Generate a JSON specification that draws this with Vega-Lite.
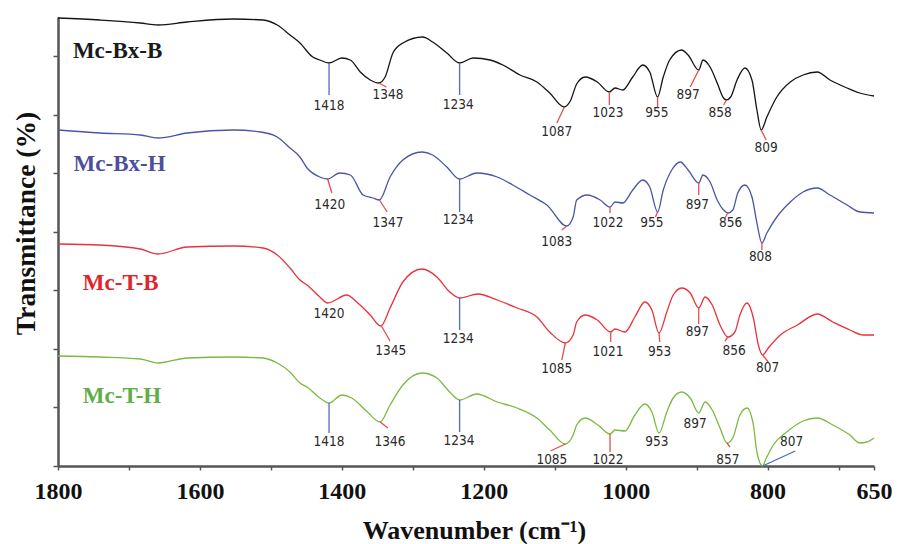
{
  "$schema": "https://vega.github.io/schema/vega-lite/v6.json",
  "width": 816,
  "height": 449,
  "autosize": {"type": "none"},
  "padding": {"left": 58, "top": 17, "right": 24, "bottom": 78},
  "background": "white",
  "config": {"view": {"stroke": null}},
  "datasets": {
    "spectra": [
      {"s":"Mc-Bx-B","w":1800,"t":448},{"s":"Mc-Bx-B","w":1741,"t":446},{"s":"Mc-Bx-B","w":1684,"t":443},{"s":"Mc-Bx-B","w":1659,"t":441},{"s":"Mc-Bx-B","w":1618,"t":444},{"s":"Mc-Bx-B","w":1553,"t":447},{"s":"Mc-Bx-B","w":1511,"t":446},{"s":"Mc-Bx-B","w":1491,"t":441},{"s":"Mc-Bx-B","w":1473,"t":431},{"s":"Mc-Bx-B","w":1459,"t":423},{"s":"Mc-Bx-B","w":1441,"t":409},{"s":"Mc-Bx-B","w":1431,"t":406},{"s":"Mc-Bx-B","w":1418,"t":403},{"s":"Mc-Bx-B","w":1400,"t":408},{"s":"Mc-Bx-B","w":1388,"t":406},{"s":"Mc-Bx-B","w":1374,"t":394},{"s":"Mc-Bx-B","w":1360,"t":386},{"s":"Mc-Bx-B","w":1348,"t":383},{"s":"Mc-Bx-B","w":1339,"t":389},{"s":"Mc-Bx-B","w":1328,"t":413},{"s":"Mc-Bx-B","w":1314,"t":423},{"s":"Mc-Bx-B","w":1286,"t":429},{"s":"Mc-Bx-B","w":1272,"t":424},{"s":"Mc-Bx-B","w":1252,"t":413},{"s":"Mc-Bx-B","w":1234,"t":403},{"s":"Mc-Bx-B","w":1215,"t":408},{"s":"Mc-Bx-B","w":1191,"t":406},{"s":"Mc-Bx-B","w":1173,"t":401},{"s":"Mc-Bx-B","w":1149,"t":391},{"s":"Mc-Bx-B","w":1125,"t":384},{"s":"Mc-Bx-B","w":1107,"t":373},{"s":"Mc-Bx-B","w":1087,"t":359},{"s":"Mc-Bx-B","w":1078,"t":365},{"s":"Mc-Bx-B","w":1069,"t":382},{"s":"Mc-Bx-B","w":1057,"t":389},{"s":"Mc-Bx-B","w":1040,"t":384},{"s":"Mc-Bx-B","w":1023,"t":374},{"s":"Mc-Bx-B","w":1015,"t":378},{"s":"Mc-Bx-B","w":1004,"t":376},{"s":"Mc-Bx-B","w":990,"t":389},{"s":"Mc-Bx-B","w":976,"t":401},{"s":"Mc-Bx-B","w":966,"t":394},{"s":"Mc-Bx-B","w":955,"t":369},{"s":"Mc-Bx-B","w":947,"t":389},{"s":"Mc-Bx-B","w":938,"t":406},{"s":"Mc-Bx-B","w":921,"t":416},{"s":"Mc-Bx-B","w":912,"t":411},{"s":"Mc-Bx-B","w":897,"t":396},{"s":"Mc-Bx-B","w":891,"t":406},{"s":"Mc-Bx-B","w":881,"t":399},{"s":"Mc-Bx-B","w":871,"t":383},{"s":"Mc-Bx-B","w":862,"t":368},{"s":"Mc-Bx-B","w":858,"t":366},{"s":"Mc-Bx-B","w":852,"t":369},{"s":"Mc-Bx-B","w":843,"t":386},{"s":"Mc-Bx-B","w":832,"t":398},{"s":"Mc-Bx-B","w":822,"t":386},{"s":"Mc-Bx-B","w":815,"t":356},{"s":"Mc-Bx-B","w":809,"t":336},{"s":"Mc-Bx-B","w":801,"t":349},{"s":"Mc-Bx-B","w":787,"t":369},{"s":"Mc-Bx-B","w":768,"t":384},{"s":"Mc-Bx-B","w":750,"t":391},{"s":"Mc-Bx-B","w":730,"t":394},{"s":"Mc-Bx-B","w":712,"t":386},{"s":"Mc-Bx-B","w":688,"t":378},{"s":"Mc-Bx-B","w":670,"t":373},{"s":"Mc-Bx-B","w":650,"t":370},

      {"s":"Mc-Bx-H","w":1800,"t":336},{"s":"Mc-Bx-H","w":1741,"t":333},{"s":"Mc-Bx-H","w":1684,"t":331},{"s":"Mc-Bx-H","w":1659,"t":328},{"s":"Mc-Bx-H","w":1618,"t":333},{"s":"Mc-Bx-H","w":1553,"t":336},{"s":"Mc-Bx-H","w":1514,"t":334},{"s":"Mc-Bx-H","w":1491,"t":329},{"s":"Mc-Bx-H","w":1473,"t":318},{"s":"Mc-Bx-H","w":1459,"t":309},{"s":"Mc-Bx-H","w":1449,"t":298},{"s":"Mc-Bx-H","w":1431,"t":289},{"s":"Mc-Bx-H","w":1420,"t":287},{"s":"Mc-Bx-H","w":1403,"t":293},{"s":"Mc-Bx-H","w":1388,"t":291},{"s":"Mc-Bx-H","w":1370,"t":271},{"s":"Mc-Bx-H","w":1356,"t":268},{"s":"Mc-Bx-H","w":1347,"t":266},{"s":"Mc-Bx-H","w":1332,"t":289},{"s":"Mc-Bx-H","w":1314,"t":306},{"s":"Mc-Bx-H","w":1287,"t":314},{"s":"Mc-Bx-H","w":1272,"t":311},{"s":"Mc-Bx-H","w":1252,"t":299},{"s":"Mc-Bx-H","w":1234,"t":287},{"s":"Mc-Bx-H","w":1210,"t":293},{"s":"Mc-Bx-H","w":1181,"t":289},{"s":"Mc-Bx-H","w":1159,"t":281},{"s":"Mc-Bx-H","w":1135,"t":271},{"s":"Mc-Bx-H","w":1111,"t":261},{"s":"Mc-Bx-H","w":1083,"t":240},{"s":"Mc-Bx-H","w":1074,"t":249},{"s":"Mc-Bx-H","w":1069,"t":266},{"s":"Mc-Bx-H","w":1054,"t":271},{"s":"Mc-Bx-H","w":1036,"t":266},{"s":"Mc-Bx-H","w":1022,"t":259},{"s":"Mc-Bx-H","w":1015,"t":264},{"s":"Mc-Bx-H","w":1004,"t":263},{"s":"Mc-Bx-H","w":990,"t":276},{"s":"Mc-Bx-H","w":976,"t":286},{"s":"Mc-Bx-H","w":966,"t":279},{"s":"Mc-Bx-H","w":955,"t":254},{"s":"Mc-Bx-H","w":947,"t":276},{"s":"Mc-Bx-H","w":935,"t":296},{"s":"Mc-Bx-H","w":923,"t":304},{"s":"Mc-Bx-H","w":912,"t":296},{"s":"Mc-Bx-H","w":897,"t":283},{"s":"Mc-Bx-H","w":891,"t":291},{"s":"Mc-Bx-H","w":881,"t":284},{"s":"Mc-Bx-H","w":871,"t":266},{"s":"Mc-Bx-H","w":862,"t":256},{"s":"Mc-Bx-H","w":856,"t":253},{"s":"Mc-Bx-H","w":849,"t":256},{"s":"Mc-Bx-H","w":842,"t":273},{"s":"Mc-Bx-H","w":832,"t":281},{"s":"Mc-Bx-H","w":822,"t":269},{"s":"Mc-Bx-H","w":815,"t":243},{"s":"Mc-Bx-H","w":808,"t":223},{"s":"Mc-Bx-H","w":801,"t":233},{"s":"Mc-Bx-H","w":787,"t":249},{"s":"Mc-Bx-H","w":768,"t":264},{"s":"Mc-Bx-H","w":750,"t":274},{"s":"Mc-Bx-H","w":730,"t":278},{"s":"Mc-Bx-H","w":712,"t":271},{"s":"Mc-Bx-H","w":688,"t":261},{"s":"Mc-Bx-H","w":670,"t":254},{"s":"Mc-Bx-H","w":650,"t":253},

      {"s":"Mc-T-B","w":1800,"t":222},{"s":"Mc-T-B","w":1741,"t":221},{"s":"Mc-T-B","w":1684,"t":217},{"s":"Mc-T-B","w":1659,"t":212},{"s":"Mc-T-B","w":1618,"t":219},{"s":"Mc-T-B","w":1553,"t":220},{"s":"Mc-T-B","w":1511,"t":218},{"s":"Mc-T-B","w":1491,"t":211},{"s":"Mc-T-B","w":1473,"t":198},{"s":"Mc-T-B","w":1459,"t":186},{"s":"Mc-T-B","w":1449,"t":181},{"s":"Mc-T-B","w":1431,"t":169},{"s":"Mc-T-B","w":1420,"t":163},{"s":"Mc-T-B","w":1393,"t":171},{"s":"Mc-T-B","w":1379,"t":164},{"s":"Mc-T-B","w":1360,"t":151},{"s":"Mc-T-B","w":1345,"t":140},{"s":"Mc-T-B","w":1332,"t":158},{"s":"Mc-T-B","w":1314,"t":184},{"s":"Mc-T-B","w":1287,"t":197},{"s":"Mc-T-B","w":1266,"t":189},{"s":"Mc-T-B","w":1248,"t":174},{"s":"Mc-T-B","w":1234,"t":168},{"s":"Mc-T-B","w":1208,"t":172},{"s":"Mc-T-B","w":1181,"t":166},{"s":"Mc-T-B","w":1153,"t":158},{"s":"Mc-T-B","w":1125,"t":149},{"s":"Mc-T-B","w":1107,"t":134},{"s":"Mc-T-B","w":1085,"t":123},{"s":"Mc-T-B","w":1074,"t":131},{"s":"Mc-T-B","w":1069,"t":144},{"s":"Mc-T-B","w":1057,"t":151},{"s":"Mc-T-B","w":1040,"t":146},{"s":"Mc-T-B","w":1021,"t":134},{"s":"Mc-T-B","w":1015,"t":137},{"s":"Mc-T-B","w":1001,"t":134},{"s":"Mc-T-B","w":987,"t":149},{"s":"Mc-T-B","w":973,"t":164},{"s":"Mc-T-B","w":963,"t":156},{"s":"Mc-T-B","w":953,"t":133},{"s":"Mc-T-B","w":942,"t":154},{"s":"Mc-T-B","w":933,"t":171},{"s":"Mc-T-B","w":921,"t":178},{"s":"Mc-T-B","w":909,"t":173},{"s":"Mc-T-B","w":897,"t":158},{"s":"Mc-T-B","w":888,"t":169},{"s":"Mc-T-B","w":878,"t":161},{"s":"Mc-T-B","w":867,"t":141},{"s":"Mc-T-B","w":856,"t":129},{"s":"Mc-T-B","w":846,"t":134},{"s":"Mc-T-B","w":839,"t":151},{"s":"Mc-T-B","w":829,"t":163},{"s":"Mc-T-B","w":820,"t":148},{"s":"Mc-T-B","w":813,"t":121},{"s":"Mc-T-B","w":807,"t":111},{"s":"Mc-T-B","w":799,"t":118},{"s":"Mc-T-B","w":782,"t":131},{"s":"Mc-T-B","w":758,"t":141},{"s":"Mc-T-B","w":730,"t":152},{"s":"Mc-T-B","w":708,"t":144},{"s":"Mc-T-B","w":684,"t":136},{"s":"Mc-T-B","w":665,"t":131},{"s":"Mc-T-B","w":650,"t":131},

      {"s":"Mc-T-H","w":1800,"t":110},{"s":"Mc-T-H","w":1741,"t":109},{"s":"Mc-T-H","w":1684,"t":107},{"s":"Mc-T-H","w":1659,"t":103},{"s":"Mc-T-H","w":1618,"t":108},{"s":"Mc-T-H","w":1553,"t":109},{"s":"Mc-T-H","w":1511,"t":108},{"s":"Mc-T-H","w":1491,"t":103},{"s":"Mc-T-H","w":1473,"t":94},{"s":"Mc-T-H","w":1459,"t":83},{"s":"Mc-T-H","w":1449,"t":79},{"s":"Mc-T-H","w":1431,"t":68},{"s":"Mc-T-H","w":1418,"t":63},{"s":"Mc-T-H","w":1400,"t":71},{"s":"Mc-T-H","w":1386,"t":68},{"s":"Mc-T-H","w":1364,"t":54},{"s":"Mc-T-H","w":1346,"t":44},{"s":"Mc-T-H","w":1332,"t":61},{"s":"Mc-T-H","w":1314,"t":81},{"s":"Mc-T-H","w":1287,"t":93},{"s":"Mc-T-H","w":1266,"t":88},{"s":"Mc-T-H","w":1248,"t":74},{"s":"Mc-T-H","w":1234,"t":66},{"s":"Mc-T-H","w":1210,"t":72},{"s":"Mc-T-H","w":1181,"t":64},{"s":"Mc-T-H","w":1153,"t":58},{"s":"Mc-T-H","w":1125,"t":48},{"s":"Mc-T-H","w":1107,"t":36},{"s":"Mc-T-H","w":1085,"t":22},{"s":"Mc-T-H","w":1074,"t":31},{"s":"Mc-T-H","w":1069,"t":41},{"s":"Mc-T-H","w":1057,"t":48},{"s":"Mc-T-H","w":1039,"t":41},{"s":"Mc-T-H","w":1022,"t":32},{"s":"Mc-T-H","w":1015,"t":36},{"s":"Mc-T-H","w":1001,"t":35},{"s":"Mc-T-H","w":987,"t":51},{"s":"Mc-T-H","w":973,"t":62},{"s":"Mc-T-H","w":963,"t":54},{"s":"Mc-T-H","w":953,"t":33},{"s":"Mc-T-H","w":942,"t":54},{"s":"Mc-T-H","w":933,"t":68},{"s":"Mc-T-H","w":921,"t":74},{"s":"Mc-T-H","w":909,"t":68},{"s":"Mc-T-H","w":897,"t":53},{"s":"Mc-T-H","w":888,"t":64},{"s":"Mc-T-H","w":878,"t":56},{"s":"Mc-T-H","w":867,"t":38},{"s":"Mc-T-H","w":857,"t":23},{"s":"Mc-T-H","w":849,"t":28},{"s":"Mc-T-H","w":839,"t":51},{"s":"Mc-T-H","w":829,"t":58},{"s":"Mc-T-H","w":820,"t":41},{"s":"Mc-T-H","w":815,"t":14},{"s":"Mc-T-H","w":807,"t":0},{"s":"Mc-T-H","w":803,"t":6},{"s":"Mc-T-H","w":792,"t":21},{"s":"Mc-T-H","w":773,"t":34},{"s":"Mc-T-H","w":750,"t":45},{"s":"Mc-T-H","w":730,"t":48},{"s":"Mc-T-H","w":708,"t":41},{"s":"Mc-T-H","w":684,"t":31},{"s":"Mc-T-H","w":670,"t":23},{"s":"Mc-T-H","w":660,"t":24},{"s":"Mc-T-H","w":650,"t":28}
    ],
    "markers": [
      {"s":"Mc-Bx-B","kind":"ref","w":1418,"t":403,"w2":1418,"t2":371},
      {"s":"Mc-Bx-B","kind":"peak","w":1348,"t":383,"w2":1337,"t2":379},
      {"s":"Mc-Bx-B","kind":"ref","w":1234,"t":403,"w2":1234,"t2":371},
      {"s":"Mc-Bx-B","kind":"peak","w":1087,"t":358,"w2":1097,"t2":343},
      {"s":"Mc-Bx-B","kind":"peak","w":1023,"t":374,"w2":1023,"t2":361},
      {"s":"Mc-Bx-B","kind":"peak","w":955,"t":369,"w2":955,"t2":359},
      {"s":"Mc-Bx-B","kind":"peak","w":897,"t":396,"w2":909,"t2":379},
      {"s":"Mc-Bx-B","kind":"peak","w":858,"t":366,"w2":862,"t2":361},
      {"s":"Mc-Bx-B","kind":"peak","w":809,"t":336,"w2":802,"t2":326},
      {"s":"Mc-Bx-H","kind":"peak","w":1420,"t":287,"w2":1414,"t2":273},
      {"s":"Mc-Bx-H","kind":"peak","w":1347,"t":266,"w2":1336,"t2":254},
      {"s":"Mc-Bx-H","kind":"ref","w":1234,"t":287,"w2":1234,"t2":254},
      {"s":"Mc-Bx-H","kind":"peak","w":1083,"t":240,"w2":1090,"t2":236},
      {"s":"Mc-Bx-H","kind":"peak","w":1022,"t":259,"w2":1022,"t2":253},
      {"s":"Mc-Bx-H","kind":"peak","w":955,"t":254,"w2":958,"t2":249},
      {"s":"Mc-Bx-H","kind":"peak","w":897,"t":283,"w2":897,"t2":271},
      {"s":"Mc-Bx-H","kind":"peak","w":856,"t":253,"w2":860,"t2":248},
      {"s":"Mc-Bx-H","kind":"peak","w":808,"t":223,"w2":808,"t2":216},
      {"s":"Mc-T-B","kind":"peak","w":1345,"t":141,"w2":1332,"t2":125},
      {"s":"Mc-T-B","kind":"ref","w":1234,"t":168,"w2":1234,"t2":136},
      {"s":"Mc-T-B","kind":"peak","w":1085,"t":123,"w2":1090,"t2":106},
      {"s":"Mc-T-B","kind":"peak","w":1021,"t":134,"w2":1021,"t2":124},
      {"s":"Mc-T-B","kind":"peak","w":953,"t":133,"w2":952,"t2":124},
      {"s":"Mc-T-B","kind":"peak","w":897,"t":158,"w2":897,"t2":142},
      {"s":"Mc-T-B","kind":"peak","w":856,"t":129,"w2":860,"t2":125},
      {"s":"Mc-T-B","kind":"peak","w":807,"t":111,"w2":799,"t2":104},
      {"s":"Mc-T-H","kind":"ref","w":1418,"t":63,"w2":1418,"t2":33},
      {"s":"Mc-T-H","kind":"peak","w":1346,"t":44,"w2":1335,"t2":38},
      {"s":"Mc-T-H","kind":"ref","w":1234,"t":66,"w2":1234,"t2":34},
      {"s":"Mc-T-H","kind":"peak","w":1085,"t":22,"w2":1106,"t2":15},
      {"s":"Mc-T-H","kind":"peak","w":1022,"t":32,"w2":1022,"t2":14},
      {"s":"Mc-T-H","kind":"peak","w":857,"t":23,"w2":853,"t2":19},
      {"s":"Mc-T-H","kind":"ref","w":807,"t":0,"w2":761,"t2":15}
    ],
    "peakLabels": [
      {"s":"Mc-Bx-B","label":"1418","w":1418,"t":360},
      {"s":"Mc-Bx-B","label":"1348","w":1335,"t":371},
      {"s":"Mc-Bx-B","label":"1234","w":1236,"t":361},
      {"s":"Mc-Bx-B","label":"1087","w":1097,"t":334},
      {"s":"Mc-Bx-B","label":"1023","w":1025,"t":353},
      {"s":"Mc-Bx-B","label":"955","w":956,"t":353},
      {"s":"Mc-Bx-B","label":"897","w":912,"t":371},
      {"s":"Mc-Bx-B","label":"858","w":867,"t":353},
      {"s":"Mc-Bx-B","label":"809","w":802,"t":318},
      {"s":"Mc-Bx-H","label":"1420","w":1417,"t":261},
      {"s":"Mc-Bx-H","label":"1347","w":1335,"t":243},
      {"s":"Mc-Bx-H","label":"1234","w":1236,"t":246},
      {"s":"Mc-Bx-H","label":"1083","w":1097,"t":224},
      {"s":"Mc-Bx-H","label":"1022","w":1025,"t":243},
      {"s":"Mc-Bx-H","label":"955","w":963,"t":243},
      {"s":"Mc-Bx-H","label":"897","w":899,"t":261},
      {"s":"Mc-Bx-H","label":"856","w":852,"t":243},
      {"s":"Mc-Bx-H","label":"808","w":810,"t":209},
      {"s":"Mc-T-B","label":"1420","w":1418,"t":152},
      {"s":"Mc-T-B","label":"1345","w":1331,"t":115},
      {"s":"Mc-T-B","label":"1234","w":1236,"t":127},
      {"s":"Mc-T-B","label":"1085","w":1097,"t":97},
      {"s":"Mc-T-B","label":"1021","w":1025,"t":114},
      {"s":"Mc-T-B","label":"953","w":952,"t":114},
      {"s":"Mc-T-B","label":"897","w":899,"t":134},
      {"s":"Mc-T-B","label":"856","w":847,"t":115},
      {"s":"Mc-T-B","label":"807","w":800,"t":98},
      {"s":"Mc-T-H","label":"1418","w":1418,"t":24},
      {"s":"Mc-T-H","label":"1346","w":1332,"t":24},
      {"s":"Mc-T-H","label":"1234","w":1235,"t":25},
      {"s":"Mc-T-H","label":"1085","w":1104,"t":6},
      {"s":"Mc-T-H","label":"1022","w":1025,"t":6},
      {"s":"Mc-T-H","label":"953","w":956,"t":24},
      {"s":"Mc-T-H","label":"897","w":902,"t":42},
      {"s":"Mc-T-H","label":"857","w":856,"t":6},
      {"s":"Mc-T-H","label":"807","w":766,"t":24}
    ],
    "names": [
      {"s":"Mc-Bx-B","w":1779,"t":415},
      {"s":"Mc-Bx-H","w":1778,"t":302},
      {"s":"Mc-T-B","w":1765,"t":183},
      {"s":"Mc-T-H","w":1765,"t":70}
    ]
  },
  "encoding": {
    "x": {
      "field": "w", "type": "quantitative",
      "scale": {"domain": [650, 1800], "reverse": true, "nice": false, "zero": false},
      "axis": {
        "title": "Wavenumber (cm⁻¹)",
        "values": [1800,1700,1600,1500,1400,1300,1200,1100,1000,900,800,700,650],
        "labelExpr": "(datum.value % 200 == 0 || datum.value == 650) ? format(datum.value, 'd') : ''",
        "grid": false,
        "domainColor": "#555555", "domainWidth": 2.5,
        "tickColor": "#555555", "tickWidth": 1.5, "tickSize": 4,
        "labelFont": "Liberation Serif", "labelFontSize": 24, "labelFontWeight": "bold", "labelColor": "#111111",
        "labelPadding": 9, "labelOverlap": false, "labelFlush": false,
        "titleFont": "Liberation Serif", "titleFontSize": 26, "titleFontWeight": "bold", "titleColor": "#111111",
        "titleX": 416, "titleY": 72, "titleBaseline": "alphabetic", "titleAlign": "center"
      }
    },
    "y": {
      "field": "t", "type": "quantitative",
      "scale": {"domain": [0, 449], "nice": false, "zero": false},
      "axis": {
        "title": "Transmittance (%)",
        "values": [0, 58.6, 117.1, 175.7, 234.3, 292.9, 351.4, 410],
        "labels": false,
        "grid": false,
        "domainColor": "#555555", "domainWidth": 2.5,
        "tickColor": "#555555", "tickWidth": 1.5, "tickSize": 5,
        "titleFont": "Liberation Serif", "titleFontSize": 27.5, "titleFontWeight": "bold", "titleColor": "#111111",
        "titleAngle": -90, "titleX": -24, "titleY": 206, "titleAlign": "center", "titleBaseline": "alphabetic"
      }
    }
  },
  "layer": [
    {
      "data": {"name": "spectra"},
      "mark": {"type": "line", "strokeWidth": 1.3, "interpolate": "monotone", "clip": false},
      "encoding": {
        "color": {"field": "s", "type": "nominal", "legend": null,
          "scale": {"domain": ["Mc-Bx-B","Mc-Bx-H","Mc-T-B","Mc-T-H"], "range": ["#151515","#4a55a5","#e8323a","#7cb942"]}}
      }
    },
    {
      "data": {"name": "markers"},
      "mark": {"type": "rule", "strokeWidth": 1.3},
      "encoding": {
        "x2": {"field": "w2"},
        "y2": {"field": "t2"},
        "color": {"field": "kind", "type": "nominal", "legend": null,
          "scale": {"domain": ["ref","peak"], "range": ["#4f6db0","#e25050"]}}
      }
    },
    {
      "data": {"name": "peakLabels"},
      "mark": {"type": "text", "font": "DejaVu Sans Condensed", "fontSize": 13.5, "align": "center", "baseline": "middle", "color": "#2a2a2a"},
      "encoding": {
        "text": {"field": "label", "type": "nominal"}
      }
    },
    {
      "data": {"name": "names"},
      "mark": {"type": "text", "font": "Liberation Serif", "fontSize": 23, "fontWeight": "bold", "align": "left", "baseline": "middle"},
      "encoding": {
        "text": {"field": "s", "type": "nominal"},
        "color": {"field": "s", "type": "nominal", "legend": null,
          "scale": {"domain": ["Mc-Bx-B","Mc-Bx-H","Mc-T-B","Mc-T-H"], "range": ["#1a1a1a","#4d4f9c","#e0262c","#5fae48"]}}
      }
    }
  ],
  "resolve": {"scale": {"color": "independent"}}
}
